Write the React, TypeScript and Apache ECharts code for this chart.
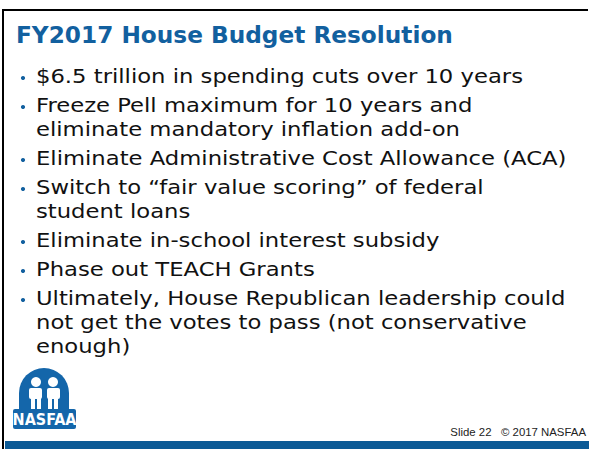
import React, { useEffect, useRef } from "react";
import * as echarts from "echarts";

const TITLE = "FY2017 House Budget Resolution";
const BULLETS: string[][] = [
  ["$6.5 trillion in spending cuts over 10 years"],
  ["Freeze Pell maximum for 10 years and", "eliminate mandatory inflation add-on"],
  ["Eliminate Administrative Cost Allowance (ACA)"],
  ["Switch to \u201cfair value scoring\u201d of federal", "student loans"],
  ["Eliminate in-school interest subsidy"],
  ["Phase out TEACH Grants"],
  [
    "Ultimately, House Republican leadership could",
    "not get the votes to pass (not conservative",
    "enough)",
  ],
];
const LOGO_TEXT = "NASFAA";
const FOOTER = "Slide 22   \u00a9 2017 NASFAA";

const BLUE = "#12609f";
const LOGO_BLUE = "#1466aa";
const BAR_BLUE = "#0b5a96";
const TEXT = "#111111";

export default function App() {
  const ref = useRef<HTMLDivElement>(null);
  useEffect(() => {
    document.body.style.margin = "0";
    const chart = echarts.init(ref.current!, null, { renderer: "svg" });
    const els: any[] = [];
    // frame
    els.push({ type: "rect", shape: { x: 0, y: 0, width: 589, height: 449 }, style: { fill: "#fff" } });
    els.push({ type: "line", shape: { x1: 2, y1: 10, x2: 588, y2: 10 }, style: { stroke: "#000", lineWidth: 2 } });
    els.push({ type: "line", shape: { x1: 3, y1: 9, x2: 3, y2: 449 }, style: { stroke: "#000", lineWidth: 2 } });
    els.push({ type: "rect", shape: { x: 5, y: 441, width: 584, height: 8 }, style: { fill: BAR_BLUE } });
    // title
    els.push({
      type: "text",
      x: 16,
      y: 35,
      scaleX: 1.01,
      style: {
        text: TITLE,
        fill: BLUE,
        font: "bold 23px 'DejaVu Sans'",
        textVerticalAlign: "middle",
      },
    });
    // bullets
    let y = 77;
    BULLETS.forEach((lines) => {
      els.push({ type: "circle", shape: { cx: 23, cy: y + 1, r: 2.1 }, style: { fill: BLUE } });
      lines.forEach((ln, i) => {
        els.push({
          type: "text",
          x: 36,
          y: y + i * 24,
          scaleX: 1.195,
          style: { text: ln, fill: TEXT, font: "19px 'DejaVu Sans'", textVerticalAlign: "middle" },
        });
      });
      y += (lines.length - 1) * 24 + 29;
    });
    // logo
    const W = "#ffffff";
    els.push({ type: "rect", shape: { x: 19, y: 368, width: 50, height: 45, r: [25, 25, 0, 0] }, style: { fill: LOGO_BLUE } });
    els.push({ type: "rect", shape: { x: 13, y: 409, width: 63, height: 20, r: 2 }, style: { fill: LOGO_BLUE } });
    // left figure
    els.push({ type: "circle", shape: { cx: 36, cy: 382, r: 5 }, style: { fill: W } });
    els.push({ type: "rect", shape: { x: 29, y: 388, width: 13, height: 11, r: 2 }, style: { fill: W } });
    els.push({ type: "rect", shape: { x: 31, y: 397, width: 4, height: 12 }, style: { fill: W } });
    els.push({ type: "rect", shape: { x: 37, y: 397, width: 4, height: 12 }, style: { fill: W } });
    // right figure
    els.push({ type: "circle", shape: { cx: 53, cy: 382, r: 5 }, style: { fill: W } });
    els.push({ type: "rect", shape: { x: 47, y: 388, width: 13, height: 11, r: 2 }, style: { fill: W } });
    els.push({ type: "rect", shape: { x: 48, y: 397, width: 4, height: 12 }, style: { fill: W } });
    els.push({ type: "rect", shape: { x: 54, y: 397, width: 4, height: 12 }, style: { fill: W } });
    els.push({
      type: "text",
      x: 44.5,
      y: 419.5,
      style: {
        text: LOGO_TEXT,
        fill: W,
        font: "bold 16px 'DejaVu Sans Condensed', 'Liberation Sans'",
        textAlign: "center",
        textVerticalAlign: "middle",
      },
    });
    // footer
    els.push({
      type: "text",
      x: 586,
      y: 432,
      style: {
        text: FOOTER,
        fill: "#222",
        font: "11.4px 'Liberation Sans'",
        textAlign: "right",
        textVerticalAlign: "middle",
      },
    });
    chart.setOption({ animation: false, graphic: { elements: els } });
    return () => chart.dispose();
  }, []);
  return <div ref={ref} style={{ width: 589, height: 449 }} />;
}
